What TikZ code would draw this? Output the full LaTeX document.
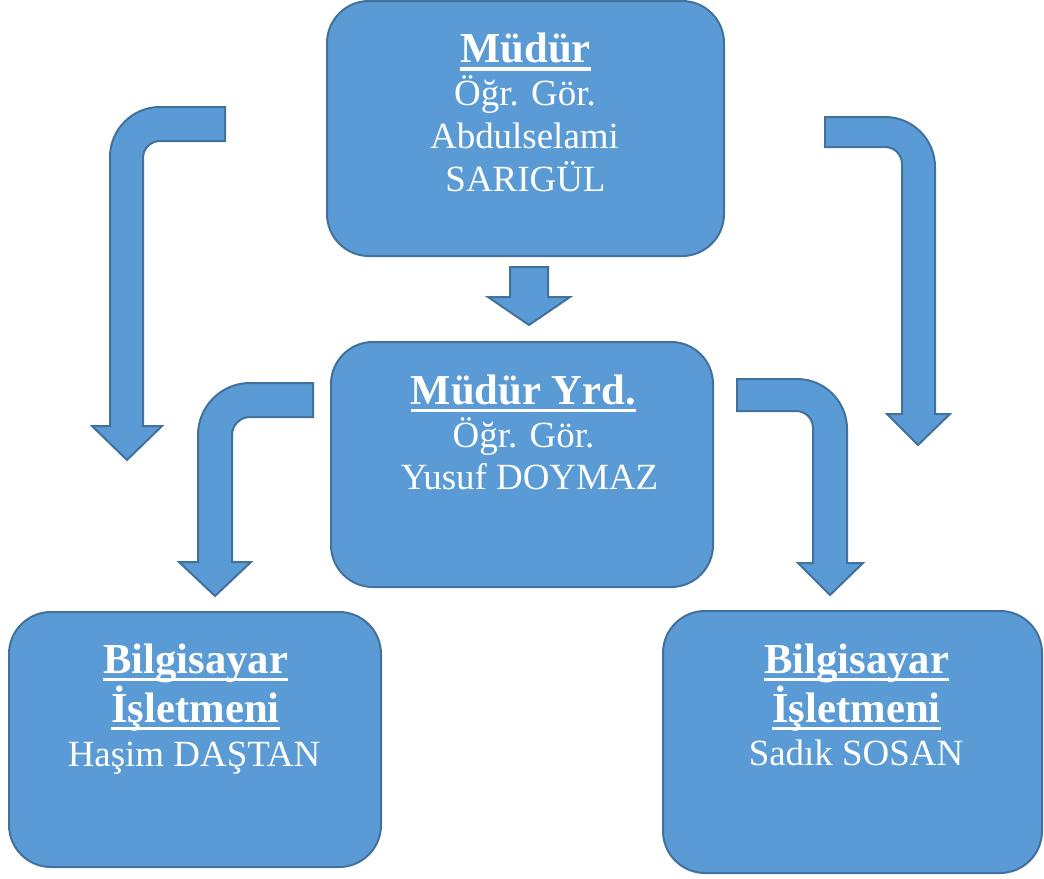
\documentclass[tikz,border=0pt]{standalone}
\usepackage{fontspec}
\setmainfont{Liberation Serif}
\definecolor{boxfill}{HTML}{5B9BD5}
\definecolor{boxline}{HTML}{41719C}
\newcommand\ulbox[1]{\setbox0\hbox{#1}\rlap{\copy0}\rule[-6.3pt]{\wd0}{2.6pt}}
\tikzset{
  box/.style={draw=boxline, fill=boxfill, line width=1.5pt, rounded corners=31.5pt, inner sep=0pt},
  arrowshape/.style={draw=boxline, fill=boxfill, line width=1.5pt, line join=miter},
  headtext/.style={text=white, inner sep=0pt, anchor=base, font=\fontsize{32}{36}\selectfont\bfseries},
  bodytext/.style={text=white, inner sep=0pt, anchor=base, font=\fontsize{27.7}{32}\selectfont}
}
\begin{document}
\begin{tikzpicture}[x=0.75pt, y=-0.75pt]
\useasboundingbox (0,0) rectangle (1044,878);
% boxes
\node[box, minimum width=297.75pt, minimum height=191.25pt] (mudur) at (525.5,128.5) {};
\node[box, minimum width=286.5pt, minimum height=183.75pt] (yrd) at (522,464.5) {};
\node[box, minimum width=279pt, minimum height=191.25pt] (bl) at (195,739.5) {};
\node[box, minimum width=284.25pt, minimum height=196.5pt] (br) at (852.5,742) {};
% arrows
\draw[arrowshape] (225,107) -- (160,107) .. controls (132.4,107) and (110,129.4) .. (110,157) -- (110,426) -- (92,426) -- (127,460) -- (162,426) -- (143,426) -- (143,158) .. controls (143,148.6) and (150.6,141) .. (160,141) -- (225,141) -- cycle;
\draw[arrowshape] (313,383) -- (250,383) .. controls (221.3,383) and (198,406.3) .. (198,435) -- (198,562) -- (179,562) -- (215,596) -- (251,562) -- (232,562) -- (232,435) .. controls (232,425.1) and (240.1,417) .. (250,417) -- (313,417) -- cycle;
\draw[arrowshape] (737,379) -- (797,379) .. controls (824.6,379) and (847,401.4) .. (847,429) -- (847,563) -- (863,563) -- (830,595) -- (798,563) -- (813,563) -- (813,428) .. controls (813,418.6) and (805.4,411) .. (796,411) -- (737,411) -- cycle;
\draw[arrowshape] (825,117) -- (885,117) .. controls (912.6,117) and (935,139.4) .. (935,167) -- (935,414) -- (950,414) -- (918,445) -- (887,414) -- (902,414) -- (902,164) .. controls (902,154.6) and (894.4,147) .. (885,147) -- (825,147) -- cycle;
\draw[arrowshape] (510,267) -- (548,267) -- (548,297) -- (570,297) -- (529,325) -- (488,297) -- (510,297) -- cycle;
% texts
\node[headtext] (t1) at (525.5,62.5) {\ulbox{Müdür}};
\node[bodytext] (t2) at (525,105) {Öğr. Gör.};
\node[bodytext] (t3) at (524.5,148) {Abdulselami};
\node[bodytext] (t4) at (525.5,191) {SARIGÜL};
\node[headtext] (m1) at (523.5,404) {\ulbox{Müdür Yrd.}};
\node[bodytext] (m2) at (523.5,447) {Öğr. Gör.};
\node[bodytext] (m3) at (529.5,489) {Yusuf DOYMAZ};
\node[headtext] (l1) at (195.5,673) {\ulbox{Bilgisayar}};
\node[headtext] (l2) at (195.5,722) {\ulbox{İşletmeni}};
\node[bodytext] (l3) at (194,766) {Haşim DAŞTAN};
\node[headtext] (r1) at (856.5,673) {\ulbox{Bilgisayar}};
\node[headtext] (r2) at (856.5,722) {\ulbox{İşletmeni}};
\node[bodytext] (r3) at (856,765) {Sadık SOSAN};
\end{tikzpicture}
\end{document}
